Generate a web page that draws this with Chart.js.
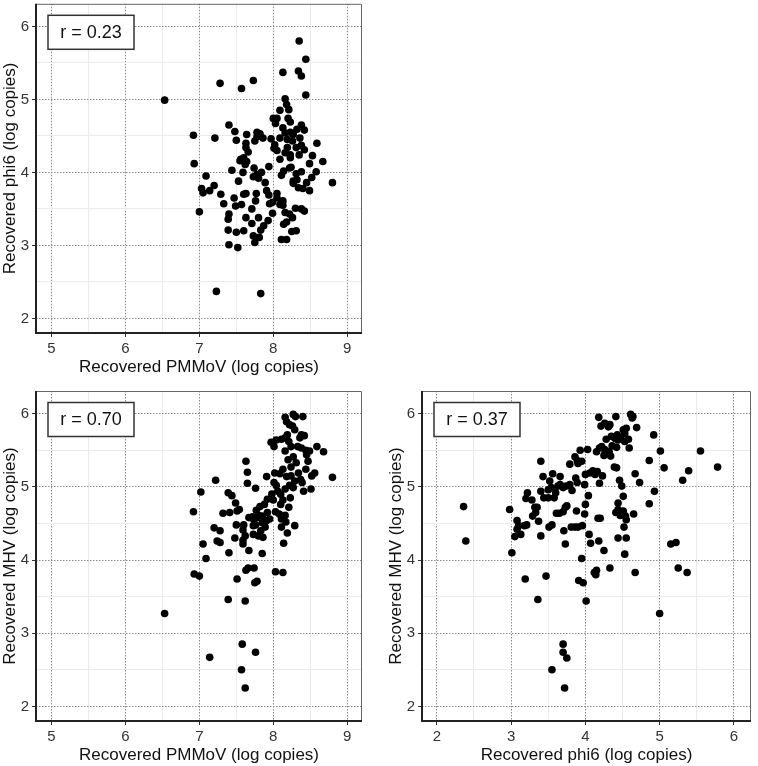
<!DOCTYPE html>
<html lang="en">
<head>
    <meta charset="UTF-8">
    <title>Recovered PMMoV, phi6 and MHV</title>
    <style>
        body {
            margin: 0;
            background: #fff;
            width: 758px;
            height: 766px;
            position: relative;
            overflow: hidden;
        }

        canvas {
            position: absolute;
        }

        #chartA { left: 0; top: 0; }
        #chartB { left: 0; top: 378px; }
        #chartC { left: 386px; top: 378px; }
    </style>
    <script src="https://cdn.jsdelivr.net/npm/chart.js"></script>
</head>
<body>
    <canvas id="chartA" width="370" height="378"></canvas>
    <canvas id="chartB" width="370" height="388"></canvas>
    <canvas id="chartC" width="372" height="388"></canvas>

    <script>
        // Panel A: PMMoV vs phi6
        const pmmovA = [6.53, 7.28, 7.57, 7.73, 8.35, 8.44, 8.34, 8.38, 8.13, 8.44, 8.16, 8.18, 8.09, 8.21, 8.05,
            8.03, 8.23, 7.40, 7.48, 6.92, 7.21, 7.50, 7.64, 7.78, 7.82, 7.86, 7.78, 7.63, 7.75, 7.97,
            8.02, 8.09, 8.13, 8.16, 8.19, 8.23, 8.27, 8.32, 8.38, 8.42, 8.36, 8.26, 8.31, 8.38, 8.42,
            8.35, 8.19, 8.23, 8.16, 8.05, 8.59, 8.53, 8.67, 8.49, 8.58, 8.38, 8.52, 8.49, 8.27, 8.32,
            8.34, 8.40, 8.45, 8.80, 8.22, 8.14, 8.11, 8.24, 7.63, 7.66, 7.56, 7.60, 7.64, 7.55, 7.74,
            7.59, 7.44, 7.78, 7.73, 7.84, 7.89, 7.80, 7.09, 6.93, 7.53, 7.20, 7.03, 7.05, 7.14, 7.29,
            7.47, 7.60, 7.63, 7.77, 7.76, 7.91, 7.94, 8.05, 8.05, 7.99, 7.95, 8.13, 8.09, 8.13, 7.33,
            7.49, 7.57, 7.00, 7.71, 7.99, 8.16, 8.22, 8.26, 8.18, 8.14, 8.30, 8.38, 8.42, 7.40, 7.39,
            7.63, 7.80, 7.93, 7.71, 7.87, 7.39, 7.50, 7.60, 7.83, 7.73, 7.81, 8.25, 8.31, 8.11, 8.18,
            7.75, 7.40, 7.52, 7.23, 7.83, 7.62, 7.94, 8.09, 8.31, 8.27, 8.23, 8.00, 8.01, 8.20];
        const phi6A = [4.99, 5.22, 5.15, 5.26, 5.80, 5.55, 5.39, 5.32, 5.37, 5.06, 5.01, 4.93, 4.85, 4.86, 4.74,
            4.67, 4.69, 4.65, 4.56, 4.51, 4.47, 4.44, 4.52, 4.55, 4.53, 4.47, 4.49, 4.40, 4.43, 4.46,
            4.38, 4.47, 4.61, 4.54, 4.45, 4.55, 4.52, 4.59, 4.65, 4.58, 4.47, 4.43, 4.34, 4.37, 4.31,
            4.24, 4.34, 4.24, 4.27, 4.30, 4.40, 4.23, 4.15, 4.12, 4.01, 4.01, 3.93, 3.75, 3.85, 3.90,
            3.79, 3.78, 3.86, 3.86, 4.06, 4.02, 3.96, 4.07, 4.34, 4.28, 4.18, 4.20, 4.15, 4.16, 4.06,
            4.00, 4.03, 3.97, 3.94, 4.00, 3.86, 3.92, 3.95, 4.12, 3.88, 3.82, 3.78, 3.72, 3.75, 3.70,
            3.65, 3.70, 3.71, 3.71, 3.61, 3.75, 3.69, 3.71, 3.65, 3.59, 3.57, 3.61, 3.56, 3.55, 3.57,
            3.54, 3.56, 3.46, 3.50, 3.44, 3.45, 3.43, 3.38, 3.32, 3.29, 3.51, 3.50, 3.47, 3.43, 3.36,
            3.38, 3.38, 3.34, 3.30, 3.27, 3.21, 3.18, 3.20, 3.21, 3.13, 3.11, 3.19, 3.20, 3.08, 3.08,
            3.04, 3.01, 2.97, 2.37, 2.34, 4.11, 4.08, 4.18, 3.98, 3.88, 4.20, 4.74, 4.33, 4.74];

        // Panel B: PMMoV vs MHV
        const pmmovB = [6.53, 7.14, 7.58, 7.76, 7.57, 7.62, 6.92, 7.02, 7.22, 6.93, 7.00, 7.05, 7.09, 7.20, 7.28,
            7.24, 7.28, 7.32, 7.39, 7.44, 7.41, 7.49, 7.51, 7.54, 7.50, 7.48, 7.59, 7.59, 7.62, 7.60,
            7.40, 7.63, 7.65, 7.65, 7.76, 7.67, 7.72, 7.77, 7.82, 7.88, 7.92, 7.91, 7.80, 7.73, 7.76,
            7.73, 7.80, 7.86, 7.83, 7.89, 7.91, 7.85, 7.92, 7.67, 7.85, 7.63, 7.66, 7.74, 7.75, 7.78,
            7.51, 7.39, 7.62, 7.97, 8.01, 8.04, 8.11, 8.16, 8.19, 8.16, 8.18, 8.22, 8.27, 8.30, 8.40,
            8.26, 8.29, 8.21, 8.24, 8.16, 8.33, 8.38, 8.42, 8.36, 8.38, 8.44, 8.49, 8.45, 8.59, 8.68,
            8.47, 8.56, 8.52, 8.80, 8.20, 8.27, 8.31, 8.24, 8.13, 8.09, 8.02, 8.18, 8.24, 8.34, 8.44,
            8.37, 8.29, 8.39, 8.22, 8.27, 8.51, 8.41, 8.01, 8.04, 8.06, 8.10, 8.16, 7.98, 8.00, 8.13,
            8.10, 8.23, 8.21, 8.08, 8.11, 8.16, 8.17, 8.11, 8.03, 8.29, 8.19, 8.14, 8.03, 8.13, 7.78,
            7.85, 7.95, 7.59, 7.73];
        const mhvB = [3.27, 2.67, 2.85, 2.74, 2.50, 2.25, 4.66, 4.93, 5.09, 3.81, 3.78, 4.22, 4.02, 4.44, 4.40,
            4.26, 4.24, 4.64, 4.92, 4.88, 4.65, 4.78, 4.67, 4.69, 4.48, 4.30, 4.27, 4.22, 4.33, 4.48,
            4.10, 5.35, 5.20, 5.05, 4.98, 4.58, 4.59, 4.68, 4.73, 4.76, 4.83, 5.14, 4.61, 4.47, 4.48,
            4.35, 4.33, 4.31, 4.40, 4.45, 4.54, 4.51, 4.65, 4.13, 4.09, 3.86, 3.89, 3.89, 3.69, 3.71,
            3.74, 3.46, 3.44, 5.61, 5.55, 5.64, 5.65, 5.67, 5.71, 5.95, 5.89, 5.85, 5.99, 5.96, 5.96,
            5.83, 5.78, 5.62, 5.55, 5.49, 5.55, 5.71, 5.70, 5.67, 5.53, 5.50, 5.49, 5.44, 5.55, 5.48,
            5.35, 5.19, 5.15, 5.13, 5.37, 5.41, 5.33, 5.27, 5.24, 5.18, 5.19, 5.14, 5.15, 5.19, 5.24,
            5.10, 5.08, 5.06, 5.02, 4.99, 4.97, 4.94, 5.06, 5.02, 4.94, 4.90, 4.97, 4.90, 4.82, 4.82,
            4.76, 4.85, 4.72, 4.63, 4.56, 4.61, 4.52, 4.45, 4.66, 4.47, 4.37, 4.23, 3.84, 3.83, 4.58,
            4.60, 4.56, 4.41, 4.56];

        // Panel C: phi6 vs MHV
        const phi6C = [2.36, 2.39, 2.98, 3.01, 3.05, 3.08, 3.10, 3.13, 3.08, 3.18, 3.21, 3.19, 3.22, 3.20, 3.28,
            3.32, 3.29, 3.33, 3.37, 3.40, 3.36, 3.40, 3.40, 3.43, 3.44, 3.47, 3.50, 3.52, 3.51, 3.55,
            3.56, 3.54, 3.60, 3.58, 3.61, 3.63, 3.66, 3.66, 3.65, 3.70, 3.71, 3.73, 3.75, 3.73, 3.74,
            3.79, 3.79, 3.82, 3.86, 3.89, 3.87, 3.89, 3.93, 3.90, 3.95, 3.88, 3.90, 3.81, 3.86, 3.96,
            3.95, 3.91, 3.97, 4.01, 3.99, 4.00, 4.04, 3.99, 4.00, 4.03, 4.06, 4.05, 4.07, 4.10, 4.13,
            4.12, 4.14, 4.15, 4.16, 4.19, 4.23, 4.25, 4.17, 4.20, 4.18, 4.15, 4.18, 4.21, 4.22, 4.19,
            4.26, 4.31, 4.28, 4.26, 4.25, 4.33, 4.35, 4.32, 4.36, 4.41, 4.40, 4.44, 4.43, 4.48, 4.51,
            4.53, 4.55, 4.53, 4.58, 4.61, 4.64, 4.63, 4.69, 4.59, 4.42, 4.39, 4.42, 4.34, 4.67, 4.73,
            4.46, 4.49, 4.51, 4.44, 4.44, 4.41, 4.47, 4.51, 4.54, 4.55, 4.52, 4.65, 4.44, 4.55, 4.53,
            4.67, 4.33, 4.86, 4.92, 5.01, 5.06, 4.86, 4.93, 5.00, 5.15, 5.22, 5.25, 5.31, 5.39, 5.37,
            5.55, 5.78, 3.70, 3.70, 3.75, 3.55, 3.72, 3.70, 3.50, 3.35];
        const mhvC = [4.73, 4.26, 4.69, 4.10, 4.32, 4.54, 4.47, 4.35, 4.42, 4.47, 4.48, 3.74, 4.92, 4.84, 4.82,
            4.72, 4.60, 4.65, 4.53, 4.33, 3.46, 5.35, 4.94, 5.14, 4.85, 3.78, 4.96, 5.08, 4.45, 4.48,
            5.18, 4.99, 4.92, 4.85, 4.64, 5.01, 5.14, 5.03, 4.64, 4.66, 4.40, 4.72, 4.74, 4.22, 5.01,
            5.03, 5.31, 4.95, 5.41, 5.36, 5.12, 5.06, 5.50, 5.32, 5.35, 4.67, 4.45, 4.45, 4.45, 4.47,
            4.02, 3.72, 3.69, 3.44, 4.63, 4.76, 4.88, 5.03, 5.17, 5.51, 5.19, 4.35, 4.23, 5.22, 5.17,
            3.83, 3.80, 3.86, 5.21, 5.05, 5.15, 4.13, 4.57, 4.57, 4.26, 5.48, 5.95, 5.83, 5.55, 5.53,
            5.87, 5.82, 5.65, 5.51, 5.43, 5.85, 5.69, 5.48, 5.56, 5.96, 5.66, 5.64, 5.71, 5.66, 5.78,
            5.73, 5.80, 5.62, 5.65, 5.99, 5.96, 5.94, 5.81, 5.53, 5.54, 5.27, 5.26, 5.42, 5.18, 5.06,
            5.09, 5.01, 4.87, 4.78, 4.69, 4.65, 4.61, 4.67, 4.60, 4.55, 4.45, 4.63, 4.30, 4.30, 4.08,
            3.83, 3.89, 5.36, 5.71, 5.49, 5.26, 4.77, 4.94, 3.27, 4.22, 4.24, 3.89, 5.09, 5.22, 3.83,
            5.49, 5.27, 2.85, 2.74, 2.66, 2.50, 2.25, 4.99, 4.85, 4.72];

        const font = "'Liberation Sans', Arial, sans-serif";

        function isWhole(v) {
            return Math.abs(v - Math.round(v)) < 1e-6;
        }

        // frame round the plot and the r box in the top left corner
        function framePlugin(label) {
            return {
                id: 'frame',
                afterDraw(chart) {
                    const { ctx, chartArea: a } = chart;
                    ctx.save();
                    // top and right: thin grey
                    ctx.strokeStyle = '#666';
                    ctx.lineWidth = 1;
                    ctx.beginPath();
                    ctx.moveTo(a.left, a.top + 0.5);
                    ctx.lineTo(a.right - 0.5, a.top + 0.5);
                    ctx.lineTo(a.right - 0.5, a.bottom);
                    ctx.stroke();
                    // left and bottom: heavier dark line
                    ctx.strokeStyle = '#222';
                    ctx.lineWidth = 2;
                    ctx.beginPath();
                    ctx.moveTo(a.left, a.top);
                    ctx.lineTo(a.left, a.bottom);
                    ctx.lineTo(a.right, a.bottom);
                    ctx.stroke();

                    const bx = a.left + 12, by = a.top + 11.5, bw = 86, bh = 34;
                    ctx.fillStyle = '#fff';
                    ctx.fillRect(bx, by, bw, bh);
                    ctx.strokeStyle = '#333';
                    ctx.lineWidth = 1.5;
                    ctx.strokeRect(bx, by, bw, bh);
                    ctx.fillStyle = '#111';
                    ctx.font = '18px ' + font;
                    ctx.textAlign = 'center';
                    ctx.textBaseline = 'middle';
                    ctx.fillText(label, bx + bw / 2, by + bh / 2 + 1);
                    ctx.restore();
                }
            };
        }

        function axis(title, min, max, horizontal) {
            return {
                type: 'linear',
                min: min,
                max: max,
                afterFit(scale) {
                    if (horizontal) {
                        scale.height = 45;
                        scale.paddingLeft = 0;
                        scale.paddingRight = 0;
                    } else {
                        scale.width = 36;
                        scale.paddingTop = 0;
                        scale.paddingBottom = 0;
                    }
                },
                ticks: {
                    stepSize: 0.5,
                    includeBounds: false,
                    maxTicksLimit: 30,
                    autoSkip: false,
                    padding: 3,
                    color: '#333',
                    font: { family: font, size: 15 },
                    callback: (v) => isWhole(v) ? String(Math.round(v)) : ''
                },
                grid: {
                    color: (c) => c.tick && isWhole(c.tick.value) ? '#8a8a8a' : '#ebebeb',
                    lineWidth: 1,
                    tickLength: 4,
                    tickColor: (c) => c.tick && isWhole(c.tick.value) ? '#333' : 'rgba(0,0,0,0)'
                },
                border: {
                    display: false,
                    dash: (c) => c.tick && isWhole(c.tick.value) ? [1.5, 1.5] : []
                },
                title: {
                    display: true,
                    text: title,
                    color: '#111',
                    font: { family: font, size: 17 },
                    padding: horizontal ? { top: 3, bottom: 0 } : { top: 0, bottom: 0 }
                }
            };
        }

        function makeChart(id, xs, ys, xTitle, yTitle, xMin, xMax, label, pad) {
            const points = xs.map((x, i) => ({ x: x, y: ys[i] }));
            return new Chart(document.getElementById(id), {
                type: 'scatter',
                data: {
                    datasets: [{
                        data: points,
                        backgroundColor: '#000',
                        borderWidth: 0,
                        pointRadius: 3.8,
                        pointHoverRadius: 3.8
                    }]
                },
                options: {
                    responsive: false,
                    animation: false,
                    layout: { padding: pad },
                    plugins: {
                        legend: { display: false },
                        tooltip: { enabled: false }
                    },
                    scales: {
                        x: axis(xTitle, xMin, xMax, true),
                        y: axis(yTitle, 1.8, 6.31, false)
                    }
                },
                plugins: [framePlugin(label)]
            });
        }

        makeChart('chartA', pmmovA, phi6A, 'Recovered PMMoV (log copies)', 'Recovered phi6 (log copies)',
            4.79, 9.2, 'r = 0.23', { top: 2, right: 8, left: 0, bottom: 0 });
        makeChart('chartB', pmmovB, mhvB, 'Recovered PMMoV (log copies)', 'Recovered MHV (log copies)',
            4.79, 9.2, 'r = 0.70', { top: 13, right: 8, left: 0, bottom: 0 });
        makeChart('chartC', phi6C, mhvC, 'Recovered phi6 (log copies)', 'Recovered MHV (log copies)',
            1.8, 6.23, 'r = 0.37', { top: 13, right: 7, left: 0, bottom: 0 });
    </script>
</body>
</html>
